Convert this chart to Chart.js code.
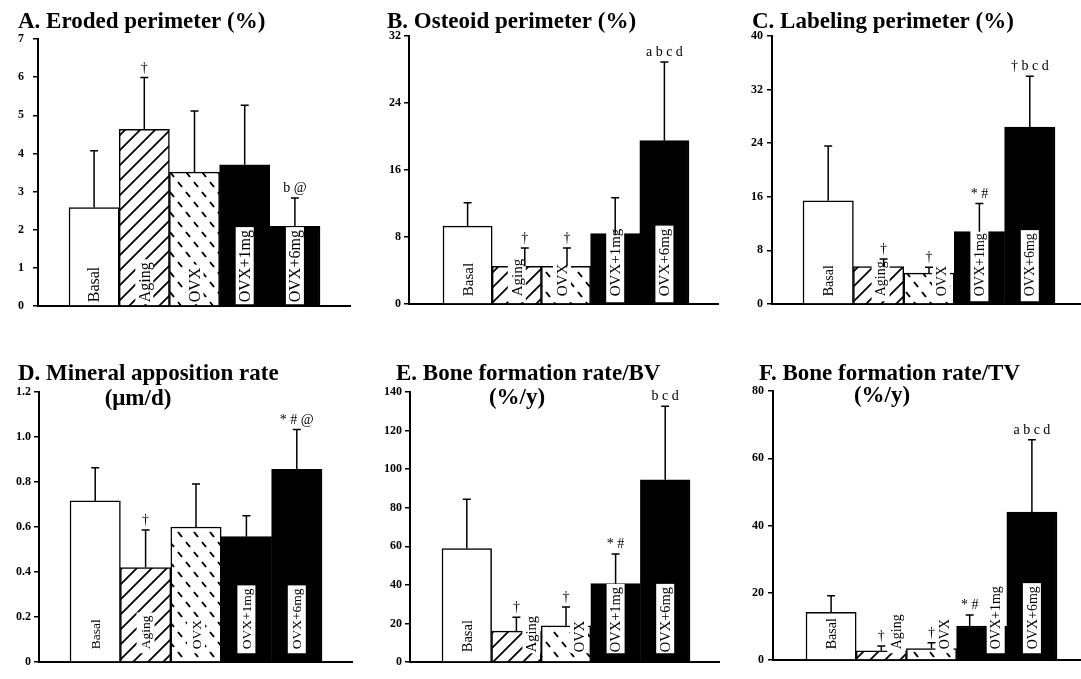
<!DOCTYPE html>
<html>
<head>
<meta charset="utf-8">
<script src="https://cdn.jsdelivr.net/npm/chart.js@4/dist/chart.umd.min.js"></script>
<style>
  body { margin: 0; background: #fff; width: 1081px; height: 679px; position: relative; overflow: hidden; }
  canvas { position: absolute; }
</style>
</head>
<body>
<canvas id="cA"></canvas>
<canvas id="cB"></canvas>
<canvas id="cC"></canvas>
<canvas id="cD"></canvas>
<canvas id="cE"></canvas>
<canvas id="cF"></canvas>
<script>
const groups = ['Basal', 'Aging', 'OVX', 'OVX+1mg', 'OVX+6mg']

// A. Eroded perimeter (%)
const erodedMean = [2.58, 4.63, 3.51, 3.70, 2.09]
const erodedSD = [1.49, 1.36, 1.60, 1.56, 0.74]
const erodedMarks = ['', '†', '', '', 'b @']

// B. Osteoid perimeter (%)
const osteoidMean = [9.3, 4.5, 4.5, 8.4, 19.5]
const osteoidSD = [2.8, 2.2, 2.2, 4.3, 9.4]
const osteoidMarks = ['', '†', '†', '', 'a b c d']

// C. Labeling perimeter (%)
const labelingMean = [15.4, 5.6, 4.6, 10.8, 26.4]
const labelingSD = [8.2, 1.1, 0.9, 4.2, 7.6]
const labelingMarks = ['', '†', '†', '* #', '† b c d']

// D. Mineral apposition rate (um/d)
const marMean = [0.716, 0.42, 0.60, 0.557, 0.856]
const marSD = [0.147, 0.167, 0.191, 0.093, 0.177]
const marMarks = ['', '†', '', '', '* # @']

// E. Bone formation rate/BV (%/y)
const bfrBvMean = [58.8, 16.0, 18.8, 40.6, 94.5]
const bfrBvSD = [25.6, 7.2, 9.7, 15.4, 38.1]
const bfrBvMarks = ['', '†', '†', '* #', 'b c d']

// F. Bone formation rate/TV (%/y)
const bfrTvMean = [14.2, 2.75, 3.4, 10.1, 44.0]
const bfrTvSD = [4.9, 1.45, 1.7, 3.3, 21.5]
const bfrTvMarks = ['', '†', '†', '* #', 'a b c d']

// fill patterns
function makeTile(w, h, draw) {
    const c = document.createElement('canvas')
    c.width = w
    c.height = h
    const g = c.getContext('2d')
    g.fillStyle = '#fff'
    g.fillRect(0, 0, w, h)
    g.strokeStyle = '#000'
    g.lineCap = 'butt'
    draw(g)
    return g.createPattern(c, 'repeat')
}

const hatch = makeTile(15, 15, g => {
    g.lineWidth = 1.8
    g.beginPath()
    g.moveTo(-2, 17); g.lineTo(17, -2)
    g.moveTo(-2, 2); g.lineTo(2, -2)
    g.moveTo(13, 17); g.lineTo(17, 13)
    g.stroke()
})

const dashes = makeTile(16, 20, g => {
    g.lineWidth = 2
    g.beginPath()
    g.moveTo(2, 2); g.lineTo(6, 7)
    g.moveTo(10, 12); g.lineTo(14, 17)
    g.stroke()
})

const fills = ['#ffffff', hatch, dashes, '#000000', '#000000']

// overlay: labels inside bars, error bars, significance marks, titles
const overlay = {
    id: 'overlay',
    afterDatasetsDraw(chart) {
        const ctx = chart.ctx
        const cfg = chart.options.plugins.overlay
        const meta = chart.getDatasetMeta(0)
        const yScale = chart.scales.y
        ctx.save()
        meta.data.forEach((bar, i) => {
            const lx = bar.x + cfg.labelShift[i]
            ctx.font = cfg.labelFont + 'px "Liberation Serif"'
            const tw = ctx.measureText(groups[i]).width
            ctx.fillStyle = '#fff'
            const boxTop = bar.base - cfg.lift - tw - 3
            ctx.fillRect(lx - 9, boxTop, 18, bar.base - cfg.gap - boxTop - 1)
            ctx.save()
            ctx.translate(lx, bar.base - cfg.lift)
            ctx.rotate(-Math.PI / 2)
            ctx.fillStyle = '#000'
            ctx.textAlign = 'left'
            ctx.textBaseline = 'middle'
            ctx.fillText(groups[i], 0, 1)
            ctx.restore()

            const ex = bar.x + cfg.errShift[i]
            const top = yScale.getPixelForValue(cfg.means[i] + cfg.sds[i])
            ctx.strokeStyle = '#000'
            ctx.lineWidth = 1.5
            ctx.beginPath()
            ctx.moveTo(ex, bar.y)
            ctx.lineTo(ex, top)
            ctx.moveTo(ex - 4, top)
            ctx.lineTo(ex + 4, top)
            ctx.stroke()

            if (cfg.marks[i]) {
                ctx.font = '14px "Liberation Serif"'
                ctx.fillStyle = '#000'
                ctx.textAlign = 'center'
                ctx.textBaseline = 'alphabetic'
                ctx.fillText(cfg.marks[i], ex, top - 6)
            }
        })
        ctx.restore()
    },
    afterDraw(chart) {
        const ctx = chart.ctx
        const cfg = chart.options.plugins.overlay
        ctx.save()
        ctx.fillStyle = '#000'
        ctx.font = 'bold 23px "Liberation Serif"'
        ctx.textBaseline = 'alphabetic'
        cfg.title.forEach(t => {
            ctx.textAlign = t.align
            ctx.fillText(t.text, t.x, t.y)
        })
        ctx.restore()
    }
}

function drawPanel(p, means, sds, marks, ymax, step, decimals) {
    const cv = document.getElementById(p.id)
    cv.width = p.w
    cv.height = p.h
    cv.style.left = p.left + 'px'
    cv.style.top = p.top + 'px'

    const bw = (p.barR - p.barL) / 5
    const xmin = 0.5 - (p.barL - p.axisX) / bw
    const xmax = 5.5 + (p.endX - p.barR) / bw

    new Chart(cv, {
        type: 'bar',
        data: {
            datasets: [{
                data: means.map((v, i) => ({ x: i + 1, y: v })),
                backgroundColor: fills,
                borderColor: '#000',
                borderWidth: 1.5,
                borderSkipped: 'start',
                barPercentage: 1,
                categoryPercentage: 1,
            }],
        },
        options: {
            responsive: false,
            animation: false,
            events: [],
            layout: {
                padding: {
                    left: 0,
                    top: p.topY - p.top,
                    right: p.left + p.w - p.endX,
                    bottom: p.top + p.h - p.zeroY,
                },
            },
            plugins: {
                legend: { display: false },
                tooltip: { enabled: false },
                overlay: {
                    means, sds, marks,
                    title: p.title,
                    lift: p.lift,
                    gap: p.gap,
                    labelFont: p.labelFont,
                    labelShift: p.labelShift || [0, 0, 0, 0, 0],
                    errShift: p.errShift || [0, 0, 0, 0, 0],
                },
            },
            scales: {
                x: {
                    type: 'linear',
                    min: xmin,
                    max: xmax,
                    offset: false,
                    grid: { display: false },
                    ticks: { display: false },
                    border: { display: true, color: '#000', width: 2 },
                },
                y: {
                    min: 0,
                    max: ymax,
                    ticks: {
                        stepSize: step,
                        autoSkip: false,
                        color: '#000',
                        padding: p.tickPad,
                        font: { family: 'Liberation Serif', size: 12, weight: 'bold' },
                        callback: v => (v === 0 ? '0' : v.toFixed(decimals)),
                    },
                    grid: { drawOnChartArea: false, drawTicks: true, tickLength: 5, color: '#000', lineWidth: 1.5 },
                    border: { color: '#000', width: 2 },
                    afterFit(s) { s.width = p.axisX - p.left },
                },
            },
        },
        plugins: [overlay],
    })
}

drawPanel({ id: 'cA', left: 0, top: 0, w: 360, h: 330, axisX: 38, topY: 39, zeroY: 314, endX: 350, barL: 69, barR: 320,
    tickPad: 9, lift: 3, gap: 0, labelFont: 16,
    title: [{ text: 'A. Eroded perimeter (%)', x: 18, y: 28, align: 'left' }] },
    erodedMean, erodedSD, erodedMarks, 7, 1, 0)

drawPanel({ id: 'cB', left: 360, top: 0, w: 360, h: 330, axisX: 409, topY: 36, zeroY: 312, endX: 718, barL: 443, barR: 689,
    tickPad: 3, lift: 7, gap: 0, labelFont: 15, labelShift: [0, 0, -4, 0, 0], errShift: [0, 8, 1, 0, 0],
    title: [{ text: 'B. Osteoid perimeter (%)', x: 27, y: 28, align: 'left' }] },
    osteoidMean, osteoidSD, osteoidMarks, 32, 8, 0)

drawPanel({ id: 'cC', left: 720, top: 0, w: 361, h: 330, axisX: 772, topY: 36, zeroY: 312, endX: 1080, barL: 803, barR: 1055,
    tickPad: 4, lift: 7, gap: 1, labelFont: 14, labelShift: [0, 2, 12, 0, 0], errShift: [0, 5, 0, 0, 0],
    title: [{ text: 'C. Labeling perimeter (%)', x: 32, y: 28, align: 'left' }] },
    labelingMean, labelingSD, labelingMarks, 40, 8, 0)

drawPanel({ id: 'cD', left: 0, top: 330, w: 360, h: 349, axisX: 39, topY: 392, zeroY: 670, endX: 352, barL: 70, barR: 322,
    tickPad: 3, lift: 12, gap: 7, labelFont: 13.5,
    title: [{ text: 'D. Mineral apposition rate', x: 18, y: 50, align: 'left' },
            { text: '(μm/d)', x: 138, y: 75, align: 'center' }] },
    marMean, marSD, marMarks, 1.2, 0.2, 1)

drawPanel({ id: 'cE', left: 360, top: 330, w: 360, h: 349, axisX: 410, topY: 392, zeroY: 670, endX: 720, barL: 442, barR: 690,
    tickPad: 3, lift: 9, gap: 7, labelFont: 14.5, labelShift: [0, 15, 13, 0, 0],
    title: [{ text: 'E. Bone formation rate/BV', x: 36, y: 50, align: 'left' },
            { text: '(%/y)', x: 157, y: 74, align: 'center' }] },
    bfrBvMean, bfrBvSD, bfrBvMarks, 140, 20, 0)

drawPanel({ id: 'cF', left: 720, top: 330, w: 361, h: 349, axisX: 773, topY: 391, zeroY: 668, endX: 1080, barL: 806, barR: 1057,
    tickPad: 4, lift: 10, gap: 5, labelFont: 14, labelShift: [0, 15, 13, 14, 0], errShift: [0, 0, 0, -12, 0],
    title: [{ text: 'F. Bone formation rate/TV', x: 39, y: 50, align: 'left' },
            { text: '(%/y)', x: 162, y: 72, align: 'center' }] },
    bfrTvMean, bfrTvSD, bfrTvMarks, 80, 20, 0)
</script>
</body>
</html>
